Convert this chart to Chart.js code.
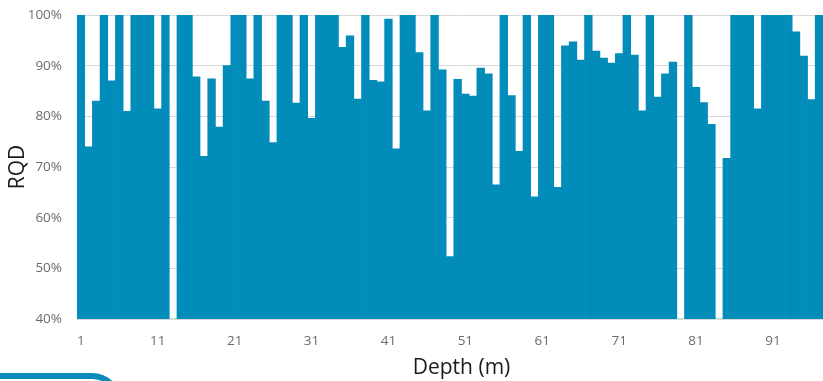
<!DOCTYPE html>
<html>
<head>
<meta charset="utf-8">
<script src="https://cdn.jsdelivr.net/npm/chart.js@4/dist/chart.umd.min.js"></script>
<style>
  html, body { margin: 0; padding: 0; overflow: hidden; background: #fff; }
  body { width: 823px; height: 381px; position: relative; }
  #wrap { position: absolute; left: 0; top: 0; width: 846px; height: 381px; }
  .tab-edge {
    position: absolute; left: -20px; top: 373px; width: 142px; height: 40px;
    box-sizing: border-box;
    border-top: 6px solid #0a8bbb; border-right: 6px solid #0a8bbb;
    border-top-right-radius: 30px;
  }
</style>
</head>
<body>
<div id="wrap"><canvas id="rqd-chart"></canvas></div>
<div class="tab-edge"></div>
<script>
/*********************************
 * DATA                          *
 *********************************/

// depth in metres (one bar per metre)
const depths = [
  1, 2, 3, 4, 5, 6, 7, 8, 9, 10,
  11, 12, 13, 14, 15, 16, 17, 18, 19, 20,
  21, 22, 23, 24, 25, 26, 27, 28, 29, 30,
  31, 32, 33, 34, 35, 36, 37, 38, 39, 40,
  41, 42, 43, 44, 45, 46, 47, 48, 49, 50,
  51, 52, 53, 54, 55, 56, 57, 58, 59, 60,
  61, 62, 63, 64, 65, 66, 67, 68, 69, 70,
  71, 72, 73, 74, 75, 76, 77, 78, 79, 80,
  81, 82, 83, 84, 85, 86, 87, 88, 89, 90,
  91, 92, 93, 94, 95, 96, 97, 98, 99, 100
];

// RQD in % (40 = at or below the axis floor, null = off the picture)
const rqd = [
  100, 74.0, 83.0, 100, 87.0, 100, 81.0, 100, 100, 100,
  81.5, 100, 40, 100, 100, 87.8, 72.1, 87.4, 77.9, 90.0,
  100, 100, 87.4, 100, 83.0, 74.8, 100, 100, 82.6, 100,
  79.6, 100, 100, 100, 93.6, 95.9, 83.4, 100, 87.1, 86.8,
  99.2, 73.6, 100, 100, 92.6, 81.1, 100, 89.2, 52.3, 87.3,
  84.4, 84.0, 89.5, 88.4, 66.5, 100, 84.1, 73.1, 100, 64.1,
  100, 100, 66.0, 93.9, 94.7, 91.1, 100, 92.9, 91.5, 90.5,
  92.4, 100, 92.1, 81.1, 100, 83.8, 88.4, 90.7, 40, 100,
  85.7, 82.7, 78.4, 40, 71.7, 100, 100, 100, 81.5, 100,
  100, 100, 100, 96.7, 91.9, 83.3, 100, 93.6, null, null
];

const depthTicks = [1, 11, 21, 31, 41, 51, 61, 71, 81, 91];
const rqdTicks = [40, 50, 60, 70, 80, 90, 100];

/*********************************
 * CHART                         *
 *********************************/

Chart.defaults.font.family = "'Open Sans', 'Noto Sans', sans-serif";

const rqdCanvas = document.getElementById('rqd-chart').getContext('2d');

let rqdData = {
  labels: depths,
  datasets: [{
    data: rqd,
    backgroundColor: '#028cb9',
    borderWidth: 0,
    barPercentage: 1,
    categoryPercentage: 1
  }]
};

let rqdOptions = {
  responsive: true,
  maintainAspectRatio: false,
  animation: false,
  layout: {
    padding: { top: 15, left: 0, right: 0, bottom: 0 }
  },
  scales: {
    x: {
      grid: { display: false, drawTicks: false },
      border: { display: true, color: '#d9d9d9' },
      afterFit: axis => {
        // keep the plot box like the original sheet
        axis.height = 62;
        axis.paddingLeft = 0;
        axis.paddingRight = 0;
      },
      ticks: {
        autoSkip: false,
        maxRotation: 0,
        padding: 14,
        color: '#6b6b6b',
        font: { size: 13.5 },
        callback: function (val) {
          const d = this.getLabelForValue(val);
          return depthTicks.includes(d) ? String(d) : '';
        }
      },
      title: {
        display: true,
        text: 'Depth (m)',
        color: '#1a1a1a',
        font: { size: 21 },
        padding: { top: 4, bottom: 0 }
      }
    },
    y: {
      min: rqdTicks[0],
      max: rqdTicks[rqdTicks.length - 1],
      afterBuildTicks: axis => {
        axis.ticks = rqdTicks.map(v => ({ value: v }));
      },
      afterFit: axis => {
        axis.width = 77;
        axis.paddingTop = 0;
        axis.paddingBottom = 0;
      },
      grid: { color: '#d9d9d9', drawTicks: false },
      border: { display: false },
      ticks: {
        padding: 15,
        color: '#6b6b6b',
        font: { size: 13.5 },
        callback: v => v + '%'
      },
      title: {
        display: true,
        text: 'RQD',
        color: '#1a1a1a',
        font: { size: 21 },
        padding: { top: 5, bottom: 0 }
      }
    }
  },
  plugins: {
    legend: { display: false },
    tooltip: { enabled: false }
  }
};

let rqdChart = new Chart(rqdCanvas, {
  type: 'bar',
  data: rqdData,
  options: rqdOptions
});
</script>
</body>
</html>
